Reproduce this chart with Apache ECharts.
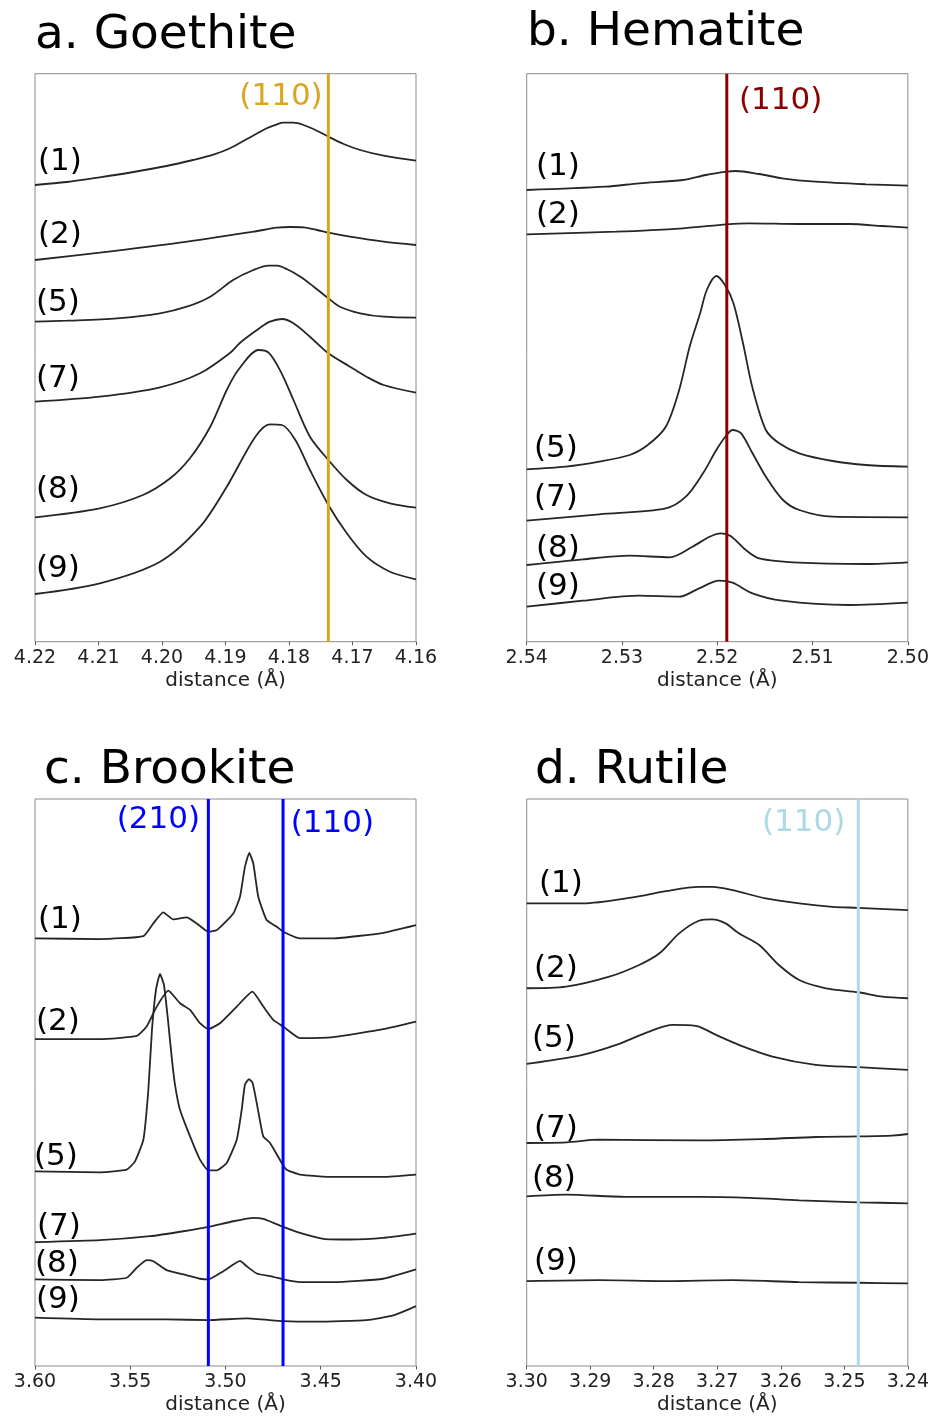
<!DOCTYPE html>
<html>
<head>
<meta charset="utf-8">
<script src="https://cdn.jsdelivr.net/npm/echarts@6/dist/echarts.min.js"></script>
<style>
html,body{margin:0;padding:0;background:#fff;}
#chart{width:932px;height:1416px;}
</style>
</head>
<body>
<div id="chart"></div>
<script>
// ---------- DATA ----------
const curveLabels = ['(1)', '(2)', '(5)', '(7)', '(8)', '(9)'];
const panelTitles = ['a. Goethite', 'b. Hematite', 'c. Brookite', 'd. Rutile'];
const xAxisName = 'distance (Å)';

// x ranges (Å) and tick step per panel
const xRangeA = [4.16, 4.22, 0.01];
const xRangeB = [2.50, 2.54, 0.01];
const xRangeC = [3.40, 3.60, 0.05];
const xRangeD = [3.24, 3.30, 0.01];

// reference reflections
const refA = [4.1738];            const refLabelA = ['(110)'];
const refB = [2.5190];            const refLabelB = ['(110)'];
const refC = [3.5090, 3.4698];    const refLabelC = ['(210)', '(110)'];
const refD = [3.2478];            const refLabelD = ['(110)'];

// a. Goethite  [distance, offset intensity]
const goe1 = [[4.2200,456.7],[4.2150,459.7],[4.2098,464.4],[4.2045,469.7],[4.1993,475.7],[4.1951,481.7],[4.1919,487.0],[4.1893,493.4],[4.1867,502.4],[4.1835,513.4],[4.1819,517.4],[4.1809,519.0],[4.1793,519.0],[4.1777,516.7],[4.1756,511.0],[4.1738,505.0],[4.1714,497.7],[4.1688,491.7],[4.1651,486.0],[4.1600,481.0]];
const goe2 = [[4.2200,381.7],[4.2098,389.0],[4.1972,399.0],[4.1856,410.0],[4.1819,414.0],[4.1798,414.7],[4.1777,414.4],[4.1756,411.7],[4.1738,409.0],[4.1704,405.0],[4.1651,400.0],[4.1600,396.7]];
const goe5 = [[4.2200,320.0],[4.2150,321.0],[4.2071,323.4],[4.2003,328.4],[4.1961,335.0],[4.1924,345.0],[4.1888,361.7],[4.1856,371.7],[4.1832,376.0],[4.1819,376.0],[4.1803,372.4],[4.1782,365.0],[4.1761,355.0],[4.1738,343.4],[4.1720,335.0],[4.1688,328.4],[4.1651,325.0],[4.1600,324.0]];
const goe7 = [[4.2200,240.0],[4.2098,245.0],[4.2003,254.4],[4.1940,268.4],[4.1893,288.7],[4.1877,299.0],[4.1846,313.7],[4.1830,320.0],[4.1811,322.7],[4.1793,318.4],[4.1767,305.0],[4.1738,288.4],[4.1704,275.0],[4.1678,265.0],[4.1651,256.7],[4.1600,249.0]];
const goe8 = [[4.2200,124.4],[4.2098,133.4],[4.2030,146.7],[4.1987,163.4],[4.1956,183.4],[4.1924,215.0],[4.1898,251.7],[4.1880,271.7],[4.1848,291.7],[4.1832,289.0],[4.1813,270.0],[4.1793,241.7],[4.1767,205.0],[4.1738,181.7],[4.1709,161.7],[4.1678,146.7],[4.1641,138.4],[4.1600,134.0]];
const goe9 = [[4.2200,47.7],[4.2098,58.4],[4.2003,80.0],[4.1940,115.0],[4.1898,155.0],[4.1853,205.0],[4.1830,217.4],[4.1811,216.7],[4.1790,201.7],[4.1767,171.7],[4.1738,136.7],[4.1709,108.4],[4.1678,85.0],[4.1641,70.0],[4.1600,62.4]];

// b. Hematite
const hem1 = [[2.5400,451.7],[2.5317,455.0],[2.5282,458.4],[2.5236,461.7],[2.5212,466.7],[2.5190,470.0],[2.5181,470.7],[2.5156,467.7],[2.5132,463.4],[2.5097,460.0],[2.5044,457.4],[2.5000,456.0]];
const hem2 = [[2.5400,407.4],[2.5306,410.0],[2.5236,413.4],[2.5190,417.4],[2.5167,418.4],[2.5114,417.7],[2.5062,417.7],[2.5027,415.7],[2.5000,414.0]];
const hem5 = [[2.5400,172.4],[2.5359,175.0],[2.5324,180.0],[2.5292,186.7],[2.5273,196.7],[2.5254,215.0],[2.5240,251.7],[2.5229,295.0],[2.5218,328.4],[2.5211,351.7],[2.5201,365.7],[2.5192,356.7],[2.5183,338.4],[2.5173,298.4],[2.5163,253.7],[2.5149,211.7],[2.5135,198.4],[2.5114,188.4],[2.5079,180.7],[2.5044,176.7],[2.5000,175.0]];
const hem7 = [[2.5400,121.0],[2.5324,127.4],[2.5254,133.4],[2.5233,145.0],[2.5215,168.4],[2.5201,191.7],[2.5191,205.7],[2.5184,211.7],[2.5175,208.4],[2.5163,188.4],[2.5149,165.0],[2.5131,141.7],[2.5114,131.7],[2.5079,125.0],[2.5000,124.4]];
const hem8 = [[2.5400,76.7],[2.5341,82.4],[2.5292,86.0],[2.5250,84.4],[2.5226,95.0],[2.5208,105.0],[2.5196,108.4],[2.5186,105.7],[2.5170,91.7],[2.5156,83.4],[2.5114,79.0],[2.5044,77.7],[2.5000,79.4]];
const hem9 = [[2.5400,35.0],[2.5341,41.0],[2.5282,46.0],[2.5240,45.0],[2.5219,53.4],[2.5198,61.0],[2.5184,59.0],[2.5163,48.4],[2.5132,41.0],[2.5062,36.7],[2.5000,39.0]];

// c. Brookite
const bro1 = [[3.6000,428.4],[3.5659,427.7],[3.5431,430.7],[3.5379,443.4],[3.5327,454.4],[3.5274,447.4],[3.5204,449.4],[3.5151,443.4],[3.5090,435.0],[3.5046,436.7],[3.4959,453.4],[3.4924,470.0],[3.4898,500.0],[3.4875,514.0],[3.4854,503.4],[3.4828,470.0],[3.4784,446.7],[3.4731,440.0],[3.4697,435.0],[3.4609,428.4],[3.4434,428.4],[3.4172,434.0],[3.4000,441.7]];
const bro2 = [[3.6000,327.4],[3.5659,327.4],[3.5466,330.7],[3.5414,340.0],[3.5361,360.0],[3.5300,376.0],[3.5239,363.4],[3.5186,356.7],[3.5134,343.4],[3.5090,337.4],[3.5029,343.4],[3.4941,360.0],[3.4859,375.0],[3.4801,360.0],[3.4749,346.7],[3.4697,340.0],[3.4609,328.4],[3.4434,329.4],[3.4172,337.4],[3.4000,345.0]];
const bro5 = [[3.6000,195.0],[3.5659,194.0],[3.5519,196.7],[3.5475,205.0],[3.5431,226.7],[3.5405,276.7],[3.5386,336.7],[3.5365,376.7],[3.5344,392.7],[3.5323,381.7],[3.5302,346.7],[3.5281,306.7],[3.5265,281.7],[3.5239,256.7],[3.5186,230.0],[3.5134,206.7],[3.5090,196.0],[3.5046,196.0],[3.4994,203.4],[3.4941,226.7],[3.4915,256.7],[3.4898,281.7],[3.4877,287.4],[3.4858,283.7],[3.4836,263.4],[3.4802,230.0],[3.4766,223.4],[3.4705,203.4],[3.4679,196.7],[3.4609,191.7],[3.4434,189.4],[3.4172,189.4],[3.4000,191.7]];
const bro7 = [[3.6000,124.0],[3.5659,126.0],[3.5396,130.0],[3.5221,135.0],[3.5090,139.4],[3.4959,145.0],[3.4854,148.4],[3.4801,147.4],[3.4749,143.4],[3.4697,139.4],[3.4609,133.4],[3.4486,127.4],[3.4346,126.7],[3.4172,128.4],[3.4000,132.7]];
const bro8 = [[3.6000,86.7],[3.5659,86.0],[3.5519,88.4],[3.5466,98.4],[3.5414,106.0],[3.5379,105.0],[3.5309,96.0],[3.5221,91.7],[3.5134,87.4],[3.5090,86.7],[3.5011,95.0],[3.4959,101.7],[3.4924,105.4],[3.4889,100.0],[3.4836,92.7],[3.4749,89.4],[3.4697,86.7],[3.4609,84.0],[3.4434,84.0],[3.4172,87.4],[3.4000,96.7]];
const bro9 = [[3.6000,48.4],[3.5659,46.7],[3.5309,46.7],[3.5090,46.0],[3.4889,47.7],[3.4697,45.0],[3.4521,44.4],[3.4259,46.0],[3.4119,50.7],[3.4000,60.0]];

// d. Rutile
const rut1 = [[3.3000,463.4],[3.2912,463.4],[3.2833,469.4],[3.2781,475.7],[3.2729,480.0],[3.2708,480.0],[3.2676,476.7],[3.2624,468.4],[3.2571,463.4],[3.2519,460.0],[3.2478,459.0],[3.2400,456.7]];
const rut2 = [[3.3000,378.4],[3.2938,380.0],[3.2870,390.0],[3.2823,401.7],[3.2791,413.4],[3.2760,433.4],[3.2729,446.0],[3.2708,447.4],[3.2687,443.4],[3.2666,433.4],[3.2634,421.7],[3.2603,401.7],[3.2571,386.7],[3.2529,378.4],[3.2478,374.4],[3.2440,370.0],[3.2400,368.4]];
const rut5 = [[3.3000,302.7],[3.2964,306.0],[3.2912,311.7],[3.2859,321.7],[3.2807,335.0],[3.2770,341.7],[3.2734,340.7],[3.2702,331.7],[3.2666,321.7],[3.2613,310.0],[3.2545,301.7],[3.2478,299.4],[3.2400,296.7]];
const rut7 = [[3.3000,223.4],[3.2938,224.0],[3.2886,226.7],[3.2729,226.0],[3.2624,227.4],[3.2545,229.4],[3.2478,230.0],[3.2425,230.7],[3.2400,232.4]];
const rut8 = [[3.3000,170.0],[3.2938,171.7],[3.2844,169.4],[3.2729,169.4],[3.2650,168.4],[3.2571,166.0],[3.2478,164.0],[3.2400,163.0]];
const rut9 = [[3.3000,85.0],[3.2886,86.0],[3.2781,85.0],[3.2676,86.0],[3.2571,84.0],[3.2478,83.4],[3.2400,82.7]];

// ---------- LAYOUT / STYLE ----------
const FONT = '"DejaVu Sans", "Liberation Sans", sans-serif';
const Y_MAX = 568;
const panels = [
  { curves:[goe1,goe2,goe5,goe7,goe8,goe9], range:xRangeA, refs:refA, refLabels:refLabelA, refColor:'#DAA520',
    grid:{left:35, top:73.7, width:381, height:568}, smooth:0.3,
    title:{x:35, y:36},
    labelPos:[[38,162],[38,234.5],[36,302.5],[36,378.5],[36,490],[36,569]],
    refLabelPos:[[322.7,97,'right']] },
  { curves:[hem1,hem2,hem5,hem7,hem8,hem9], range:xRangeB, refs:refB, refLabels:refLabelB, refColor:'#8B0000',
    grid:{left:526.7, top:73.7, width:381.6, height:568}, smooth:0.3,
    title:{x:527, y:33},
    labelPos:[[536,167],[536,215],[534,448.5],[534,497.5],[536,548.5],[536,587]],
    refLabelPos:[[739,101,'left']] },
  { curves:[bro1,bro2,bro5,bro7,bro8,bro9], range:xRangeC, refs:refC, refLabels:refLabelC, refColor:'#0000FF',
    grid:{left:35, top:799, width:381, height:567.7}, smooth:0.15,
    title:{x:44, y:771},
    labelPos:[[38,919.5],[36,1022],[34,1157],[37,1227],[35,1263.5],[36,1300]],
    refLabelPos:[[116.7,819.5,'left'],[290.7,823.5,'left']] },
  { curves:[rut1,rut2,rut5,rut7,rut8,rut9], range:xRangeD, refs:refD, refLabels:refLabelD, refColor:'#ADD8E6',
    grid:{left:526.7, top:799, width:381.6, height:567.7}, smooth:0.3,
    title:{x:535, y:771},
    labelPos:[[539,883.5],[534,968.5],[532,1038.5],[534,1128.5],[532,1179],[534,1262]],
    refLabelPos:[[762,823,'left']] }
];

const grids = [], xAxes = [], yAxes = [], series = [], graphics = [];

panels.forEach((p, i) => {
  grids.push(Object.assign({show:true, borderColor:'#8c8c8c', borderWidth:1, backgroundColor:'transparent'}, p.grid));
  xAxes.push({
    gridIndex:i, type:'value', inverse:true,
    min:p.range[0], max:p.range[1], interval:p.range[2],
    name:xAxisName, nameLocation:'middle', nameGap:29,
    nameTextStyle:{fontSize:20, color:'#222', fontFamily:FONT},
    axisLine:{show:false},
    axisTick:{show:true, inside:false, length:3.5, lineStyle:{color:'#555', width:1}},
    splitLine:{show:false},
    axisLabel:{show:true, margin:7, fontSize:19, color:'#222', fontFamily:FONT,
      formatter: v => Number(v).toFixed(2), showMinLabel:true, showMaxLabel:true}
  });
  yAxes.push({gridIndex:i, type:'value', min:0, max:Y_MAX, show:false});

  p.curves.forEach((c, k) => {
    series.push({
      type:'line', name:panelTitles[i] + ' ' + curveLabels[k],
      xAxisIndex:i, yAxisIndex:i, data:c,
      showSymbol:false, symbol:'none', smooth:p.smooth,
      lineStyle:{color:'#262626', width:1.8}, silent:true, z:2
    });
  });
  // vertical reference lines drawn as two-point line series (exact positions)
  p.refs.forEach(v => {
    series.push({
      type:'line', xAxisIndex:i, yAxisIndex:i, z:5, silent:true,
      data:[[v, 0], [v, Y_MAX]], showSymbol:false, symbol:'none',
      lineStyle:{color:p.refColor, width:3, type:'solid'}
    });
  });

  graphics.push({type:'text', x:p.title.x, y:p.title.y, silent:true,
    style:{text:panelTitles[i], fill:'#000', font:'47px ' + FONT, align:'left', verticalAlign:'middle'}});
  p.labelPos.forEach((pos, k) => {
    graphics.push({type:'text', x:pos[0], y:pos[1], silent:true,
      style:{text:curveLabels[k], fill:'#000', font:'31px ' + FONT, align:'left', verticalAlign:'middle'}});
  });
  p.refLabelPos.forEach((pos, k) => {
    graphics.push({type:'text', x:pos[0], y:pos[1], silent:true,
      style:{text:p.refLabels[k], fill:p.refColor, font:'31px ' + FONT, align:pos[2], verticalAlign:'middle'}});
  });
});

const chart = echarts.init(document.getElementById('chart'), null, {renderer:'canvas'});
chart.setOption({
  animation:false,
  backgroundColor:'#fff',
  grid:grids, xAxis:xAxes, yAxis:yAxes, series:series,
  graphic:{elements:graphics}
});
</script>
</body>
</html>
